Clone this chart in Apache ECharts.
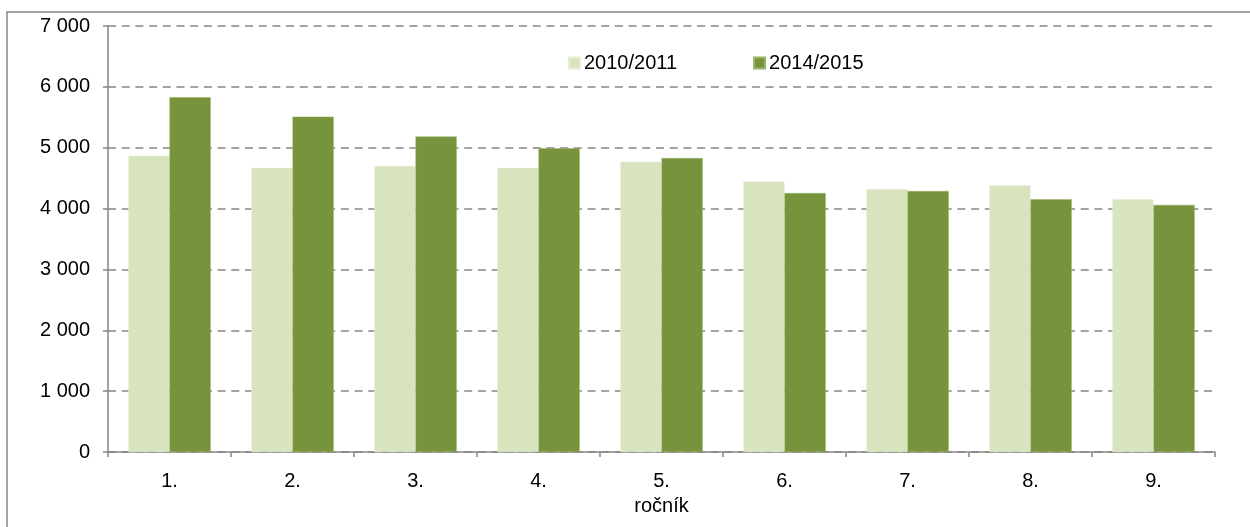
<!DOCTYPE html>
<html lang="cs">
  <head>
    <meta charset="UTF-8" />
    <title>Žáci podle ročníku</title>
    <script src="https://cdn.jsdelivr.net/npm/echarts@6/dist/echarts.min.js"></script>
    <style>
      html, body { margin: 0; padding: 0; background: #fff; }
      #chart { width: 1250px; height: 527px; }
    </style>
  </head>
  <body>
    <div id="chart"></div>
  </body>
</html>
<script>
  // data
  const categories = ["1.", "2.", "3.", "4.", "5.", "6.", "7.", "8.", "9."];
  const year2010 = [4870, 4670, 4700, 4670, 4770, 4445, 4320, 4385, 4155];
  const year2014 = [5830, 5510, 5185, 4990, 4830, 4255, 4290, 4155, 4060];
  const seriesNames = ["2010/2011", "2014/2015"];

  const chart = echarts.init(document.getElementById("chart"));
  const font = "Liberation Sans, Arial, sans-serif";
  const grey = "#868686";

  const option = {
    animation: false,
    textStyle: { fontFamily: font },
    graphic: [
      {
        type: "rect",
        shape: { x: 7, y: 12, width: 1300, height: 600 },
        style: { fill: "none", stroke: grey, lineWidth: 1.5 },
        silent: true,
      },
    ],
    legend: {
      left: 563,
      top: 48,
      itemWidth: 11,
      itemHeight: 11,
      itemGap: 76,
      icon: "rect",
      textStyle: { fontSize: 20, color: "#000", fontFamily: font, padding: [0, 0, 0, -1] },
      data: seriesNames,
    },
    grid: { left: 108, right: 35, top: 26, bottom: 75 },
    xAxis: {
      type: "category",
      data: categories,
      name: "ročník",
      nameLocation: "middle",
      nameGap: 44,
      nameTextStyle: { fontSize: 20, color: "#000", fontFamily: font },
      axisLine: { lineStyle: { color: grey, width: 1.5 } },
      axisTick: { show: true, length: 5, lineStyle: { color: grey, width: 1.5 } },
      axisLabel: { fontSize: 20, color: "#000", margin: 19, fontFamily: font },
    },
    yAxis: {
      type: "value",
      min: 0,
      max: 7000,
      interval: 1000,
      axisLine: { show: true, lineStyle: { color: grey, width: 1.5 } },
      axisTick: { show: true, length: 5, lineStyle: { color: grey, width: 1.5 } },
      axisLabel: {
        fontSize: 20,
        color: "#000",
        margin: 18,
        fontFamily: font,
        formatter: (v) => String(v).replace(/\B(?=(\d{3})+(?!\d))/g, " "),
      },
      splitLine: {
        lineStyle: { color: grey, width: 1.5, type: [8, 5.7] },
      },
    },
    series: [
      {
        name: seriesNames[0],
        type: "bar",
        data: year2010,
        barGap: "0%",
        barCategoryGap: "33%",
        itemStyle: { color: "#D7E4BD", borderColor: "#E6EFD6", borderWidth: 0.5 },
      },
      {
        name: seriesNames[1],
        type: "bar",
        data: year2014,
        itemStyle: { color: "#77933C", borderColor: "#9AB46A", borderWidth: 0.5 },
      },
    ],
  };
  chart.setOption(option);
</script>
